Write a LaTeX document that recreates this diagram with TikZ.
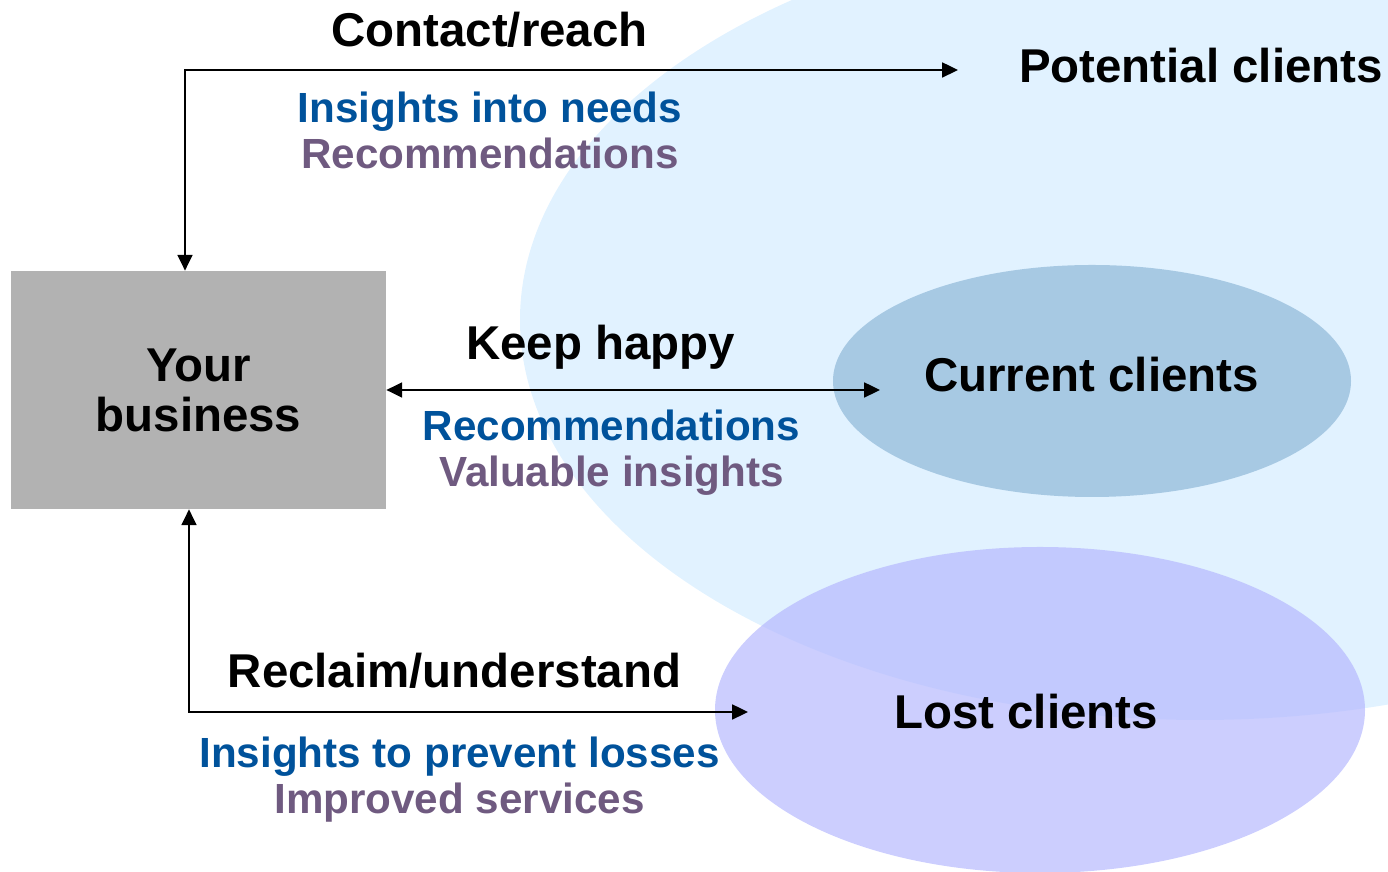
\documentclass[tikz,border=0pt]{standalone}
\usepackage{fontspec}
\setmainfont{Liberation Sans}
\usetikzlibrary{arrows.meta,shapes.geometric}

\definecolor{needsblue}{RGB}{0,82,155}
\definecolor{recpurple}{RGB}{111,90,128}
\definecolor{potentialfill}{RGB}{225,242,255}
\definecolor{currentfill}{RGB}{167,201,227}
\definecolor{lostfill}{RGB}{182,185,254}
\definecolor{boxgrey}{RGB}{178,178,178}

\begin{document}
\begin{tikzpicture}[
  bigtext/.style={font=\fontsize{27}{32}\selectfont\bfseries, anchor=base},
  smalltext/.style={font=\fontsize{24}{28}\selectfont\bfseries, anchor=base},
  flow/.style={{Triangle[length=9pt, width=8.5pt]}-{Triangle[length=9pt, width=8.5pt]}, line width=1.1pt}
]
\useasboundingbox (0,0) rectangle (27.76,17.44);

% Client groups
\node[ellipse, fill=potentialfill, minimum width=27.2cm, minimum height=16cm] (area) at (24.0, 11.04) {};
\node[ellipse, fill=currentfill, minimum width=10.36cm, minimum height=4.64cm, inner sep=0pt] (current) at (21.84, 9.82) {};
\node[ellipse, fill=lostfill, fill opacity=0.7, minimum width=13cm, minimum height=6.52cm, inner sep=0pt] (lost) at (20.8, 3.24) {};

% Your business
\node[fill=boxgrey, minimum width=7.5cm, minimum height=4.76cm, align=center,
      font=\fontsize{27}{28.4}\selectfont\bfseries] (box) at (3.97, 9.64) {Your\\business};

% Group names
\node[bigtext] (potential) at (24.02, 15.78) {Potential clients};
\node[bigtext] (currentname) at (21.83, 9.6) {Current clients};
\node[bigtext] (lostname) at (20.52, 2.86) {Lost clients};

% Arrow ends
\coordinate (reach) at (19.16, 16.04);
\coordinate (keep) at (17.6, 9.64);
\coordinate (reclaim) at (14.96, 3.2);

% Edges
\draw[flow] ([xshift=-0.27cm]box.north) |- (reach);
\draw[flow] (box.east) -- (keep);
\draw[flow] ([xshift=-0.19cm]box.south) |- (reclaim);

% Edge labels
\node[bigtext] (contact) at (9.79, 16.5) {Contact/reach};
\node[smalltext, text=needsblue] (needs) at (9.8, 14.98) {Insights into needs};
\node[smalltext, text=recpurple] (recs) at (9.8, 14.06) {Recommendations};

\node[bigtext] (happy) at (12.01, 10.24) {Keep happy};
\node[smalltext, text=needsblue] (recsmid) at (12.23, 8.62) {Recommendations};
\node[smalltext, text=recpurple] (valuable) at (12.23, 7.7) {Valuable insights};

\node[bigtext] (understand) at (9.09, 3.68) {Reclaim/understand};
\node[smalltext, text=needsblue] (prevent) at (9.19, 2.08) {Insights to prevent losses};
\node[smalltext, text=recpurple] (improved) at (9.19, 1.16) {Improved services};

\end{tikzpicture}
\end{document}
